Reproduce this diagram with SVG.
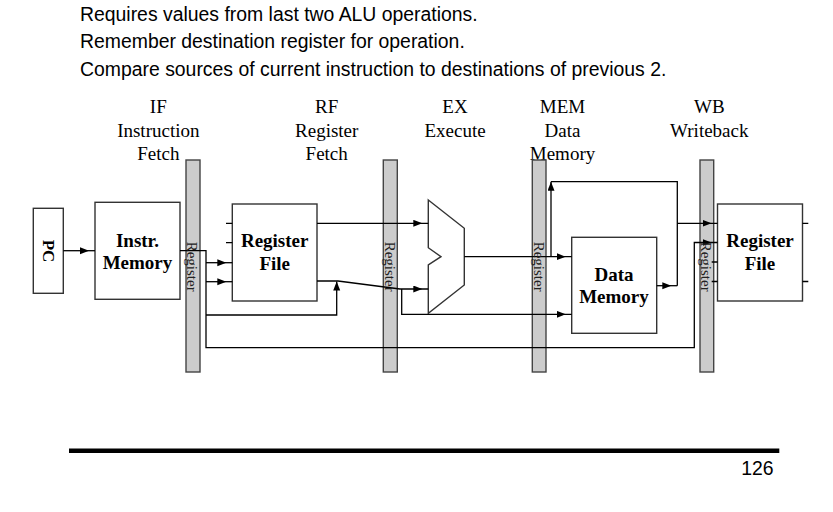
<svg xmlns="http://www.w3.org/2000/svg" width="833" height="512" viewBox="0 0 833 512">
<style>
.hd{font-family:"Liberation Sans",Arial,sans-serif;font-size:19.4px;fill:#000}
.st{font-family:"Liberation Serif","Times New Roman",serif;font-size:19px;fill:#000;text-anchor:middle}
.bl{font-family:"Liberation Serif","Times New Roman",serif;font-size:19px;font-weight:bold;fill:#000;text-anchor:middle}
.rg{font-family:"Liberation Serif","Times New Roman",serif;font-size:15px;fill:#222;text-anchor:middle}
.box{fill:#fff;stroke:#333;stroke-width:1.4}
.bar{fill:#cccccc;stroke:#444;stroke-width:1.4}
.ln{fill:none;stroke:#000;stroke-width:1.3}
</style>
<defs>
<marker id="a" markerUnits="userSpaceOnUse" markerWidth="16" markerHeight="8" refX="15" refY="3.5" orient="auto"><path d="M0,0 L9,3.5 L0,7 z" fill="#000"/></marker>
<marker id="b" markerUnits="userSpaceOnUse" markerWidth="10" markerHeight="8" refX="9" refY="3.5" orient="auto"><path d="M0,0 L9,3.5 L0,7 z" fill="#000"/></marker>
</defs>
<rect width="833" height="512" fill="#fff"/>
<g id="heading">
<text class="hd" x="80" y="20.5">Requires values from last two ALU operations.</text>
<text class="hd" x="80" y="48">Remember destination register for operation.</text>
<text class="hd" x="80" y="75.5">Compare sources of current instruction to destinations of previous 2.</text>
</g>
<g id="stage-labels">
<text class="st" x="158.3" y="113">IF</text>
<text class="st" x="158.3" y="136.5">Instruction</text>
<text class="st" x="158.3" y="160">Fetch</text>
<text class="st" x="326.7" y="113">RF</text>
<text class="st" x="326.7" y="136.5">Register</text>
<text class="st" x="326.7" y="160">Fetch</text>
<text class="st" x="455" y="113">EX</text>
<text class="st" x="455" y="136.5">Execute</text>
<text class="st" x="562.5" y="113">MEM</text>
<text class="st" x="562.5" y="136.5">Data</text>
<text class="st" x="562.5" y="160">Memory</text>
<text class="st" x="709.3" y="113">WB</text>
<text class="st" x="709.3" y="136.5">Writeback</text>
</g>
<g id="reg1"><rect class="bar" x="186" y="160" width="14" height="212"/></g>
<g id="reg2"><rect class="bar" x="383.3" y="160" width="14" height="212"/></g>
<g id="reg3"><rect class="bar" x="532.3" y="160" width="13.7" height="212"/></g>
<g id="reg4"><rect class="bar" x="700" y="160" width="13.7" height="212"/></g>
<g id="pc"><rect class="box" x="33.3" y="208.3" width="30" height="85"/>
<text class="bl" transform="translate(42.5,251) rotate(90)" style="font-size:17px">PC</text></g>
<g id="instr-memory"><rect class="box" x="95" y="202.3" width="85" height="97"/>
<text class="bl" x="137.5" y="246.7">Instr.</text>
<text class="bl" x="137.5" y="269.3">Memory</text></g>
<g id="register-file-1"><rect class="box" x="232.3" y="204" width="84.7" height="97"/>
<text class="bl" x="274.7" y="247.3">Register</text>
<text class="bl" x="274.7" y="270">File</text></g>
<g id="alu"><polygon class="box" points="428.3,200 464.3,228.3 464.3,285 428.3,313.3 428.3,265 441,256.7 428.3,247.7"/></g>
<g id="data-memory"><rect class="box" x="571.7" y="237.3" width="85" height="96"/>
<text class="bl" x="614" y="280.7">Data</text>
<text class="bl" x="614" y="303.3">Memory</text></g>
<g id="register-file-2"><rect class="box" x="717.5" y="204" width="85" height="97"/>
<text class="bl" x="760" y="247.3">Register</text>
<text class="bl" x="760" y="270">File</text></g>
<g id="connectors">
<path class="ln" d="M63.3,250.7 H95" marker-end="url(#a)"/>
<path class="ln" d="M180,250.7 H206 V347.7 H694.3 V242.5 H717.5" marker-end="url(#a)"/>
<path class="ln" d="M206,262.7 H232.3" marker-end="url(#a)"/>
<path class="ln" d="M206,281.7 H232.3" marker-end="url(#a)"/>
<path class="ln" d="M206,315 H336.7 V281.5" marker-end="url(#b)"/>
<path class="ln" d="M226,223.3 H232.3 M226,242.7 H232.3"/>
<path class="ln" d="M317,223.3 H428.3" marker-end="url(#a)"/>
<path class="ln" d="M317,281 H338 L400,289 H428.3" marker-end="url(#a)"/>
<path class="ln" d="M401.7,289 V314.3 H571.7" marker-end="url(#a)"/>
<path class="ln" d="M464.3,256.7 H571.7" marker-end="url(#a)"/>
<path class="ln" d="M551,256.7 V181.7" marker-end="url(#b)"/>
<path class="ln" d="M551,181.7 H677.3 V285.7"/>
<path class="ln" d="M656.7,285.7 H677.3" marker-end="url(#a)"/>
<path class="ln" d="M677.3,223.3 H717.5" marker-end="url(#a)"/>
<path class="ln" d="M711.7,262 H717.5 M711.7,281.5 H717.5 M802.5,223.3 H808.3 M802.5,281.5 H808.3"/>
</g>
<g id="register-labels">
<text class="rg" transform="translate(187,266.7) rotate(90)">Register</text>
<text class="rg" transform="translate(384.5,266.7) rotate(90)">Register</text>
<text class="rg" transform="translate(533.5,266.7) rotate(90)">Register</text>
<text class="rg" transform="translate(701,266.7) rotate(90)">Register</text>
</g>
<g id="footer">
<rect x="69" y="448.5" width="710.3" height="4.5" fill="#000"/>
<text class="hd" x="773.5" y="475" text-anchor="end">126</text>
</g>
</svg>
